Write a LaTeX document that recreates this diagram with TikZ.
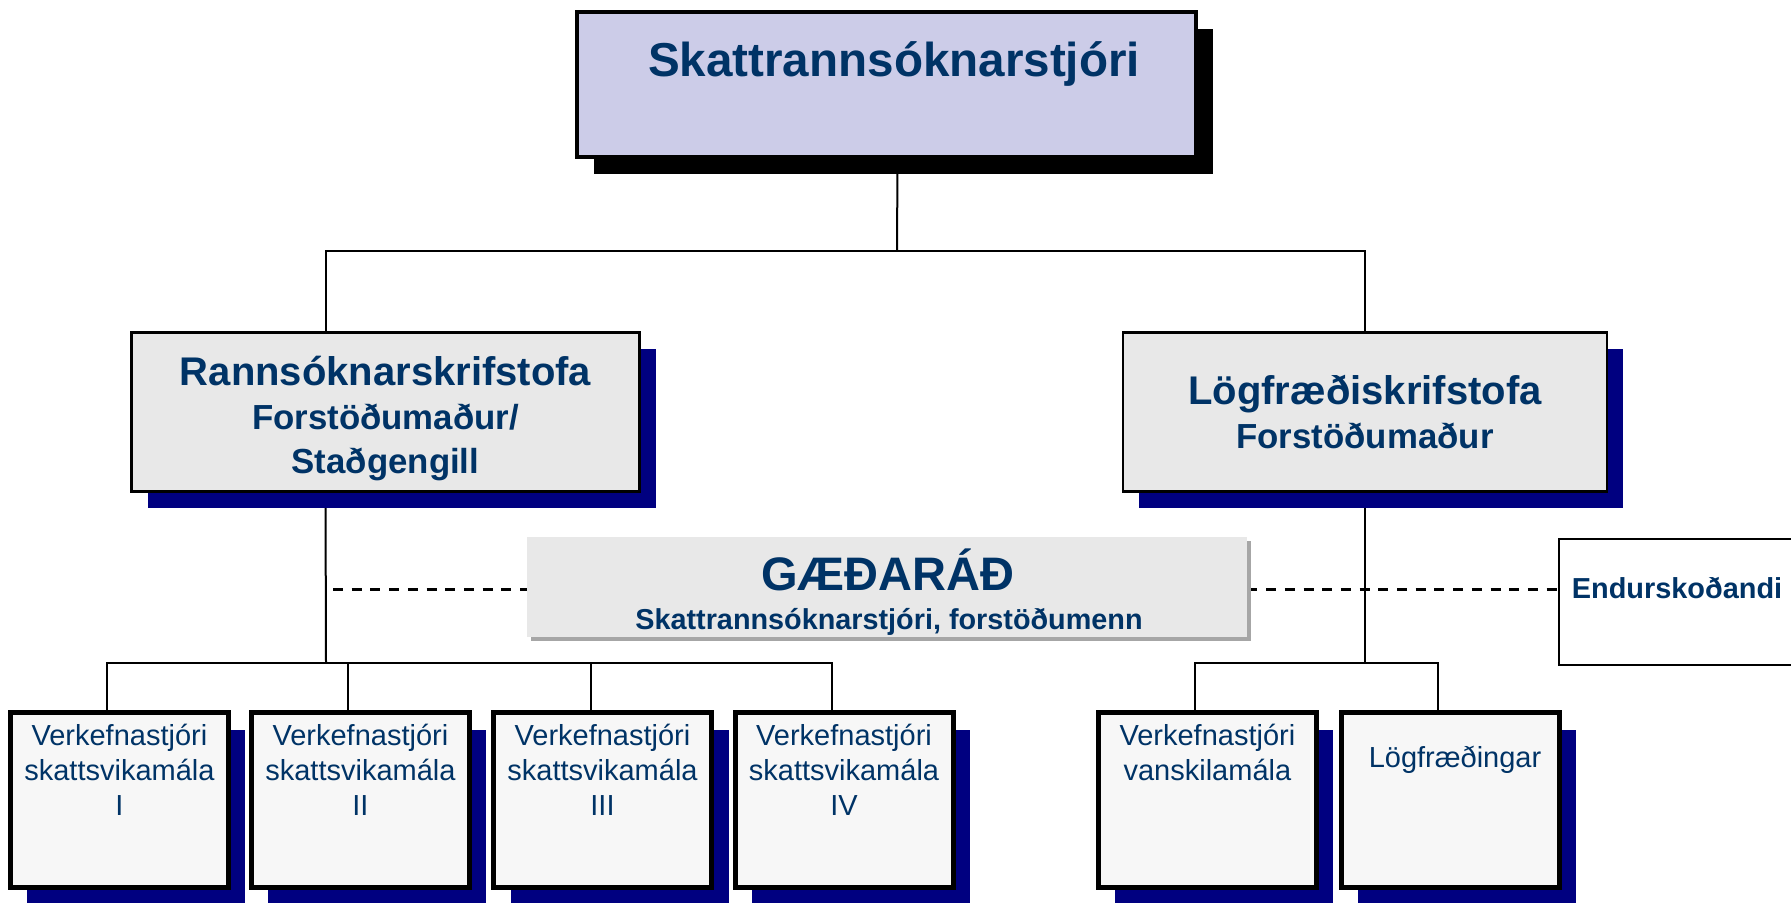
\documentclass[tikz,border=0pt]{standalone}
\usepackage{fontspec}
\setmainfont{Liberation Sans}
\usetikzlibrary{shadows,backgrounds}
\definecolor{navytext}{HTML}{003366}
\definecolor{navyshadow}{HTML}{000080}
\definecolor{chieffill}{HTML}{CCCCE8}
\definecolor{officefill}{HTML}{E8E8E8}
\definecolor{teamfill}{HTML}{F7F7F7}

\begin{document}
\begin{tikzpicture}[x=0.5pt,y=-0.5pt]
 \useasboundingbox (0,0) rectangle (1791,902);
 \clip (0,0) rectangle (1791,902);
 \tikzstyle{every node} = [text=navytext]
 \tikzstyle{chiefbox} = [draw,line width=2pt,fill=chieffill,minimum width=309.5pt,
   minimum height=72.5pt,drop shadow={shadow xshift=8.5pt,shadow yshift=-8.5pt,fill=black,opacity=1}]
 \tikzstyle{officebox} = [draw,line width=1.2pt,fill=officefill,minimum height=79.5pt,
   align=center,font=\bfseries\fontsize{20}{22}\selectfont,
   drop shadow={shadow xshift=8pt,shadow yshift=-8pt,fill=navyshadow,opacity=1}]
 \tikzstyle{officetext} = [align=center,font=\bfseries\fontsize{20}{22}\selectfont]
 \tikzstyle{boardbox} = [fill=officefill,minimum width=360pt,minimum height=50pt,
   drop shadow={shadow xshift=2pt,shadow yshift=-2pt,fill=gray!70,opacity=1}]
 \tikzstyle{auditbox} = [draw,line width=1.2pt,fill=white,minimum width=120.5pt,minimum height=63pt]
 \tikzstyle{teambox} = [draw,line width=2.5pt,fill=teamfill,minimum width=109pt,
   minimum height=87.5pt,drop shadow={shadow xshift=8.5pt,shadow yshift=-8.5pt,fill=navyshadow,opacity=1}]
 \tikzstyle{teamtext} = [anchor=north,align=center,inner sep=0pt,font=\fontsize{14.5}{17.5}\selectfont]
 \tikzstyle{link} = [line width=1pt]
 \tikzstyle{dashlink} = [line width=1.5pt,dash pattern=on 5pt off 4.35pt]

 \node[chiefbox] (chief) at (886.5,84) {};
 \node[anchor=base,font=\bfseries\fontsize{23.8}{28}\selectfont] (chieftext) at (894,76) {Skattrannsóknarstjóri};

 \node[officebox,minimum width=254pt] (lab) at (385.5,412) {};
 \node[officetext] (labtext) at (385.5,419) {Rannsóknarskrifstofa\\
   \fontsize{17.4}{22}\selectfont Forstöðumaður/\\\fontsize{17.4}{22}\selectfont Staðgengill};
 \node[officebox,minimum width=242pt] (law) at (1365,412) {Lögfræðiskrifstofa\\
   \fontsize{17.4}{22}\selectfont Forstöðumaður};

 \node[boardbox] (board) at (887,587) {};
 \node[anchor=base,font=\bfseries\fontsize{23.5}{28}\selectfont] (boardtitle) at (888,590) {GÆÐARÁÐ};
 \node[anchor=base,font=\bfseries\fontsize{14.4}{17}\selectfont] (boardsub) at (889,629.3) {Skattrannsóknarstjóri, forstöðumenn};

 \node[auditbox] (audit) at (1679.5,602) {};
 \node[anchor=base,font=\bfseries\fontsize{14.45}{17}\selectfont] (audittext) at (1677,598) {Endurskoðandi};

 \node[teambox] (w1) at (119.4,800) {};
 \node[teambox] (w2) at (360.4,800) {};
 \node[teambox] (w3) at (602.5,800) {};
 \node[teambox] (w4) at (844,800) {};
 \node[teambox] (w5) at (1207.4,800) {};
 \node[teambox] (w6) at (1450,800) {};
 \node[teamtext] (t1) at ([yshift=-6.7pt]w1.north) {Verkefnastjóri\\skattsvikamála\\I};
 \node[teamtext] (t2) at ([yshift=-6.7pt]w2.north) {Verkefnastjóri\\skattsvikamála\\II};
 \node[teamtext] (t3) at ([yshift=-6.7pt]w3.north) {Verkefnastjóri\\skattsvikamála\\III};
 \node[teamtext] (t4) at ([yshift=-6.7pt]w4.north) {Verkefnastjóri\\skattsvikamála\\IV};
 \node[teamtext] (t5) at ([yshift=-6.7pt]w5.north) {Verkefnastjóri\\vanskilamála};
 \node[teamtext] (t6) at ([xshift=2.5pt,yshift=-17.6pt]w6.north) {Lögfræðingar};

 \coordinate (topbus) at (897,251);
 \coordinate (labbus) at (326,662.5);
 \coordinate (lawbus) at (1365,662.5);
 \coordinate (dashleft) at (326,589);

 \begin{scope}[on background layer]
 \draw [link] ([xshift=5.5pt]chief.south) -- (topbus);
 \draw [link] ([xshift=-30pt]lab.north) |- (law.north |- topbus) -- (law.north);
 \draw [link] ([xshift=-30pt]lab.south) -- (labbus);
 \draw [link] (law.south) -- (lawbus);
 \draw [link] ([xshift=-6pt]w1.north) |- (labbus);
 \draw [link] ([xshift=-6pt]w2.north) |- (labbus);
 \draw [link] ([xshift=-6pt]w3.north) |- (labbus);
 \draw [link] ([xshift=-6pt]w4.north) |- (labbus);
 \draw [link] ([xshift=-6pt]w5.north) |- (lawbus);
 \draw [link] ([xshift=-6pt]w6.north) |- (lawbus);
 \draw [dashlink] ([xshift=3.5pt]dashleft) -- (dashleft -| board.west);
 \draw [dashlink] (board.east |- dashleft) -- (audit.west |- dashleft);
 \end{scope}
\end{tikzpicture}
\end{document}
